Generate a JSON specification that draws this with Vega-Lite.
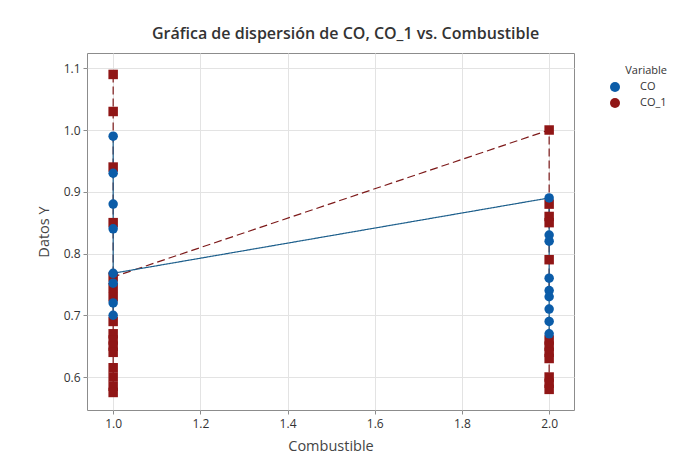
{
  "$schema": "https://vega.github.io/schema/vega-lite/v6.json",
  "autosize": "none",
  "width": 487,
  "height": 357,
  "padding": {"left": 87, "top": 53, "right": 123, "bottom": 60},
  "background": "white",
  "title": {
    "text": "Gráfica de dispersión de CO, CO_1 vs. Combustible",
    "font": "Open Sans",
    "fontSize": 16,
    "fontWeight": 600,
    "color": "#333333",
    "anchor": "middle",
    "dx": 15,
    "offset": 11
  },
  "config": {
    "view": {"stroke": "#8c8c8c", "strokeWidth": 1},
    "axis": {
      "labelFont": "Open Sans",
      "labelFontSize": 12,
      "labelColor": "#333333",
      "titleFont": "Open Sans",
      "titleFontSize": 14.5,
      "titleFontWeight": "normal",
      "titleColor": "#444444",
      "gridColor": "#e3e3e3",
      "tickColor": "#8c8c8c",
      "tickSize": 4,
      "domain": false
    },
    "legend": {
      "labelFont": "Open Sans",
      "titleFont": "Open Sans",
      "titleFontSize": 11,
      "titleFontWeight": "normal",
      "titleColor": "#333333",
      "labelFontSize": 11,
      "labelColor": "#333333"
    }
  },
  "resolve": {"scale": {"color": "independent"}, "legend": {"color": "independent"}},
  "data": {
    "values": [
      {"Combustible": 1, "Variable": "CO_1", "Y": 1.09, "ord": 1},
      {"Combustible": 1, "Variable": "CO_1", "Y": 1.03, "ord": 2},
      {"Combustible": 1, "Variable": "CO_1", "Y": 0.94, "ord": 3},
      {"Combustible": 1, "Variable": "CO_1", "Y": 0.85, "ord": 4},
      {"Combustible": 1, "Variable": "CO_1", "Y": 0.745, "ord": 5},
      {"Combustible": 1, "Variable": "CO_1", "Y": 0.73, "ord": 6},
      {"Combustible": 1, "Variable": "CO_1", "Y": 0.69, "ord": 7},
      {"Combustible": 1, "Variable": "CO_1", "Y": 0.67, "ord": 8},
      {"Combustible": 1, "Variable": "CO_1", "Y": 0.66, "ord": 9},
      {"Combustible": 1, "Variable": "CO_1", "Y": 0.65, "ord": 10},
      {"Combustible": 1, "Variable": "CO_1", "Y": 0.64, "ord": 11},
      {"Combustible": 1, "Variable": "CO_1", "Y": 0.615, "ord": 12},
      {"Combustible": 1, "Variable": "CO_1", "Y": 0.60, "ord": 13},
      {"Combustible": 1, "Variable": "CO_1", "Y": 0.585, "ord": 14},
      {"Combustible": 1, "Variable": "CO_1", "Y": 0.575, "ord": 15},
      {"Combustible": 1, "Variable": "CO_1", "Y": 0.762, "ord": 16},
      {"Combustible": 2, "Variable": "CO_1", "Y": 1.00, "ord": 17},
      {"Combustible": 2, "Variable": "CO_1", "Y": 0.88, "ord": 18},
      {"Combustible": 2, "Variable": "CO_1", "Y": 0.86, "ord": 19},
      {"Combustible": 2, "Variable": "CO_1", "Y": 0.85, "ord": 20},
      {"Combustible": 2, "Variable": "CO_1", "Y": 0.79, "ord": 21},
      {"Combustible": 2, "Variable": "CO_1", "Y": 0.66, "ord": 22},
      {"Combustible": 2, "Variable": "CO_1", "Y": 0.65, "ord": 23},
      {"Combustible": 2, "Variable": "CO_1", "Y": 0.64, "ord": 24},
      {"Combustible": 2, "Variable": "CO_1", "Y": 0.63, "ord": 25},
      {"Combustible": 2, "Variable": "CO_1", "Y": 0.60, "ord": 26},
      {"Combustible": 2, "Variable": "CO_1", "Y": 0.59, "ord": 27},
      {"Combustible": 2, "Variable": "CO_1", "Y": 0.58, "ord": 28},
      {"Combustible": 1, "Variable": "CO", "Y": 0.99, "ord": 1},
      {"Combustible": 1, "Variable": "CO", "Y": 0.93, "ord": 2},
      {"Combustible": 1, "Variable": "CO", "Y": 0.88, "ord": 3},
      {"Combustible": 1, "Variable": "CO", "Y": 0.84, "ord": 4},
      {"Combustible": 1, "Variable": "CO", "Y": 0.752, "ord": 5},
      {"Combustible": 1, "Variable": "CO", "Y": 0.72, "ord": 6},
      {"Combustible": 1, "Variable": "CO", "Y": 0.70, "ord": 7},
      {"Combustible": 1, "Variable": "CO", "Y": 0.768, "ord": 8},
      {"Combustible": 2, "Variable": "CO", "Y": 0.89, "ord": 9},
      {"Combustible": 2, "Variable": "CO", "Y": 0.83, "ord": 10},
      {"Combustible": 2, "Variable": "CO", "Y": 0.82, "ord": 11},
      {"Combustible": 2, "Variable": "CO", "Y": 0.76, "ord": 12},
      {"Combustible": 2, "Variable": "CO", "Y": 0.74, "ord": 13},
      {"Combustible": 2, "Variable": "CO", "Y": 0.73, "ord": 14},
      {"Combustible": 2, "Variable": "CO", "Y": 0.71, "ord": 15},
      {"Combustible": 2, "Variable": "CO", "Y": 0.69, "ord": 16},
      {"Combustible": 2, "Variable": "CO", "Y": 0.67, "ord": 17}
    ]
  },
  "encoding": {
    "x": {
      "field": "Combustible",
      "type": "quantitative",
      "title": "Combustible",
      "scale": {"domain": [0.94, 2.057], "nice": false, "zero": false},
      "axis": {"values": [1.0, 1.2, 1.4, 1.6, 1.8, 2.0], "format": ".1f", "titlePadding": 10, "labelPadding": 4}
    },
    "y": {
      "field": "Y",
      "type": "quantitative",
      "title": "Datos Y",
      "scale": {"domain": [0.5466, 1.1247], "nice": false, "zero": false},
      "axis": {"values": [0.6, 0.7, 0.8, 0.9, 1.0, 1.1], "format": ".1f", "titlePadding": 12, "labelPadding": 3}
    }
  },
  "layer": [
    {
      "mark": {"type": "line", "strokeWidth": 1.2},
      "encoding": {
        "order": {"field": "ord", "type": "quantitative"},
        "color": {
          "field": "Variable",
          "type": "nominal",
          "scale": {"domain": ["CO", "CO_1"], "range": ["#1d5f8c", "#7d1a1a"]},
          "legend": null
        },
        "strokeDash": {
          "field": "Variable",
          "type": "nominal",
          "scale": {"domain": ["CO", "CO_1"], "range": [[1, 0], [8, 4]]},
          "legend": null
        }
      }
    },
    {
      "mark": {"type": "point", "filled": true, "opacity": 1, "size": 90},
      "encoding": {
        "color": {
          "field": "Variable",
          "type": "nominal",
          "scale": {"domain": ["CO", "CO_1"], "range": ["#0b5ca8", "#901616"]},
          "legend": {
            "title": "Variable",
            "orient": "none",
            "legendX": 522,
            "legendY": 12,
            "titleAnchor": "end",
            "symbolSize": 100,
            "symbolOpacity": 1,
            "labelOffset": 19,
            "rowPadding": 5
          }
        },
        "shape": {
          "field": "Variable",
          "type": "nominal",
          "scale": {"domain": ["CO", "CO_1"], "range": ["circle", "square"]},
          "legend": {
            "title": "Variable",
            "orient": "none",
            "legendX": 522,
            "legendY": 12,
            "titleAnchor": "end",
            "symbolSize": 100,
            "symbolOpacity": 1,
            "labelOffset": 19,
            "rowPadding": 5
          }
        }
      }
    }
  ]
}
